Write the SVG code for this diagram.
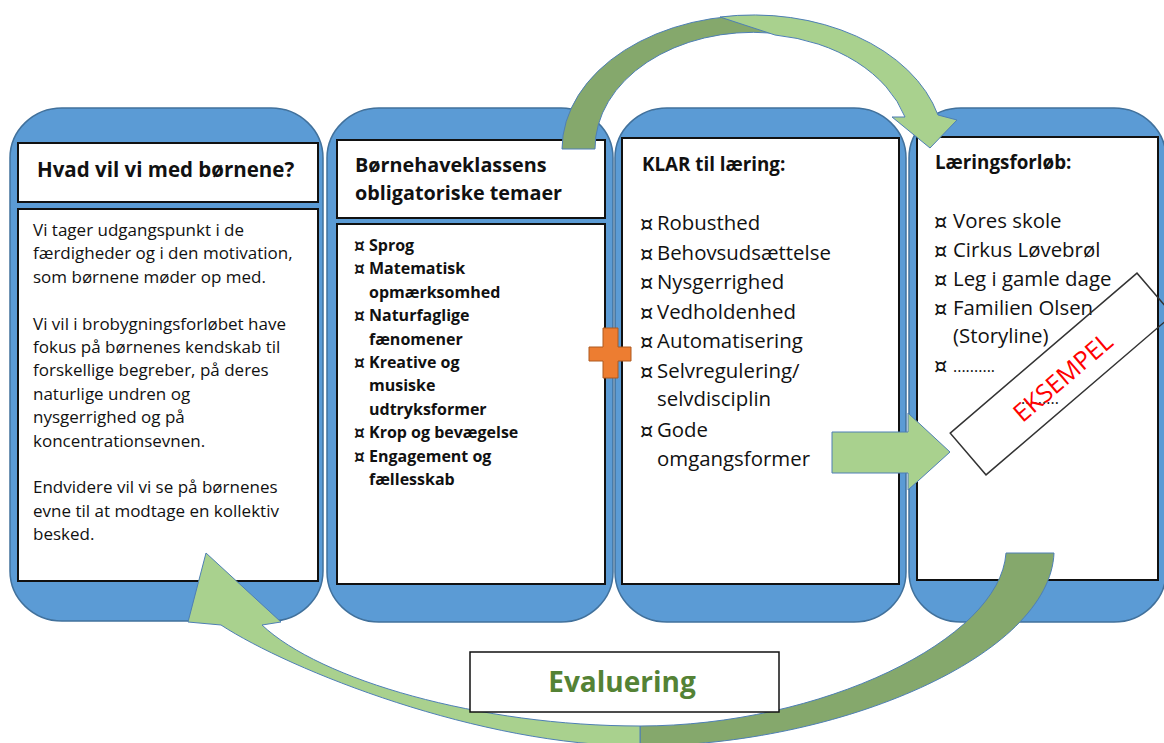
<svg xmlns="http://www.w3.org/2000/svg" width="1164" height="743" viewBox="0 0 1164 743">
<defs>
<style>
.panel{fill:#5B9BD5;stroke:#41719C;stroke-width:1.5}
.box{fill:#fff;stroke:#111;stroke-width:2}
text{font-family:"Open Sans","Noto Sans","Liberation Sans",sans-serif;fill:#111}
.hd{font-weight:bold;font-size:19.8px}
.b1{font-size:17px}
.b2{font-weight:bold;font-size:16px}
.b3{font-size:20.4px}
.bu{font-family:"DejaVu Sans",sans-serif;font-size:21px}
.bb{font-family:"DejaVu Sans",sans-serif;font-size:17px;font-weight:bold}
.lt{fill:#A9D18E;stroke:#4E7FB5;stroke-width:1}
.dk{fill:#85A86C;stroke:#4E7FB5;stroke-width:1}
</style>
</defs>
<rect width="1164" height="743" fill="#fff"/>

<g id="panel1">
<rect class="panel" x="10" y="108" width="313" height="513" rx="52" ry="50"/>
<rect class="box" x="18" y="143" width="300" height="59"/>
<rect class="box" x="18" y="209" width="300" height="372"/>
<text class="hd" x="37" y="177" style="font-size:20.5px">Hvad vil vi med børnene?</text>
<text class="b1" x="33" y="236">Vi tager udgangspunkt i de</text>
<text class="b1" x="33" y="259.4">færdigheder og i den motivation,</text>
<text class="b1" x="33" y="282.8">som børnene møder op med.</text>
<text class="b1" x="33" y="329.6">Vi vil i brobygningsforløbet have</text>
<text class="b1" x="33" y="353">fokus på børnenes kendskab til</text>
<text class="b1" x="33" y="376.4">forskellige begreber, på deres</text>
<text class="b1" x="33" y="399.8">naturlige undren og</text>
<text class="b1" x="33" y="423.2">nysgerrighed og på</text>
<text class="b1" x="33" y="446.6">koncentrationsevnen.</text>
<text class="b1" x="33" y="493.4">Endvidere vil vi se på børnenes</text>
<text class="b1" x="33" y="516.8">evne til at modtage en kollektiv</text>
<text class="b1" x="33" y="540.2">besked.</text>
</g>

<g id="panel2">
<rect class="panel" x="327" y="108" width="286" height="514" rx="52" ry="50"/>
<rect class="box" x="337" y="140" width="268" height="78"/>
<rect class="box" x="337" y="224" width="268" height="360"/>
<text class="hd" x="355" y="172">Børnehaveklassens</text>
<text class="hd" x="355" y="200">obligatoriske temaer</text>
<text class="bb" x="354" y="252">¤</text><text class="b2" x="369" y="251">Sprog</text>
<text class="bb" x="354" y="275.4">¤</text><text class="b2" x="369" y="274.4">Matematisk</text>
<text class="b2" x="369" y="297.8">opmærksomhed</text>
<text class="bb" x="354" y="322.2">¤</text><text class="b2" x="369" y="321.2">Naturfaglige</text>
<text class="b2" x="369" y="344.6">fænomener</text>
<text class="bb" x="354" y="369">¤</text><text class="b2" x="369" y="368">Kreative og</text>
<text class="b2" x="369" y="391.4">musiske</text>
<text class="b2" x="369" y="414.8">udtryksformer</text>
<text class="bb" x="354" y="439.2">¤</text><text class="b2" x="369" y="438.2">Krop og bevægelse</text>
<text class="bb" x="354" y="462.6">¤</text><text class="b2" x="369" y="461.6">Engagement og</text>
<text class="b2" x="369" y="485">fællesskab</text>
</g>

<g id="panel3">
<rect class="panel" x="615" y="108" width="291" height="514" rx="52" ry="50"/>
<rect class="box" x="622" y="138" width="277" height="446"/>
<text class="hd" x="642" y="171" style="font-size:18.8px">KLAR til læring:</text>
<text class="bu" x="640" y="231">¤</text><text class="b3" x="657" y="230">Robusthed</text>
<text class="bu" x="640" y="260.5">¤</text><text class="b3" x="657" y="259.5">Behovsudsættelse</text>
<text class="bu" x="640" y="290">¤</text><text class="b3" x="657" y="289">Nysgerrighed</text>
<text class="bu" x="640" y="319.5">¤</text><text class="b3" x="657" y="318.5">Vedholdenhed</text>
<text class="bu" x="640" y="349">¤</text><text class="b3" x="657" y="348">Automatisering</text>
<text class="bu" x="640" y="378.5">¤</text><text class="b3" x="657" y="377.5">Selvregulering/</text>
<text class="b3" x="657" y="406">selvdisciplin</text>
<text class="bu" x="640" y="438">¤</text><text class="b3" x="657" y="437">Gode</text>
<text class="b3" x="657" y="466">omgangsformer</text>
</g>

<g id="panel4">
<rect class="panel" x="909" y="108" width="257" height="514" rx="52" ry="50"/>
<rect class="box" x="917" y="137" width="241" height="443"/>
<text class="hd" x="935" y="169" style="font-size:18.8px">Læringsforløb:</text>
<text class="bu" x="934" y="229">¤</text><text class="b3" x="953" y="228">Vores skole</text>
<text class="bu" x="934" y="258">¤</text><text class="b3" x="953" y="257">Cirkus Løvebrøl</text>
<text class="bu" x="934" y="287">¤</text><text class="b3" x="953" y="286">Leg i gamle dage</text>
<text class="bu" x="934" y="315.5">¤</text><text class="b3" x="953" y="314.5">Familien Olsen</text>
<text class="b3" x="953" y="343">(Storyline)</text>
<text class="bu" x="934" y="373">¤</text><text x="953" y="372" style="font-size:16px">..........</text>
<text x="1021" y="404" style="font-size:16px">.........</text>
</g>

<g id="eksempel" transform="translate(1061.5,374) rotate(-40.6)">
<rect x="-123" y="-27.5" width="246" height="55" fill="none" stroke="#333" stroke-width="1.5"/>
<text x="-1" y="12" text-anchor="middle" style="font-size:25px;fill:#FF0000">EKSEMPEL</text>
</g>

<g id="connectors">
<path class="dk" d="M562,149 A191,134 0 0 1 770,16 L770,33 A158,116 0 0 0 595,149 Z"/>
<path class="lt" d="M720,17 A191,134 0 0 1 938,115 L957,120 L930,148 L892,117 L905,117 A158,116 0 0 0 775,35 Z"/>
<path class="lt" d="M832,432 L908,432 L908,413 L950,452 L908,490 L908,473 L832,473 Z"/>
<path class="dk" d="M1006,553 L1054,553 C1050,655 840,746 640,746 L640,726 C820,726 1000,640 1006,553 Z"/>
<path class="lt" d="M640,746 C480,746 290,670 221,625 L188,622 L206,553 L281,622 L262,625 C320,680 480,726 640,726 Z"/>
</g>

<g id="plus">
<path d="M603,328 L618,328 L618,347 L631,347 L631,361 L618,361 L618,378 L603,378 L603,361 L589,361 L589,347 L603,347 Z" fill="#ED7D31" stroke="#AE5A21" stroke-width="1"/>
</g>

<g id="evaluering">
<rect x="470" y="652" width="309" height="60" fill="#fff" stroke="#111" stroke-width="1.5"/>
<text x="622" y="692" text-anchor="middle" style="font-weight:bold;font-size:28px;fill:#548235">Evaluering</text>
</g>
</svg>
